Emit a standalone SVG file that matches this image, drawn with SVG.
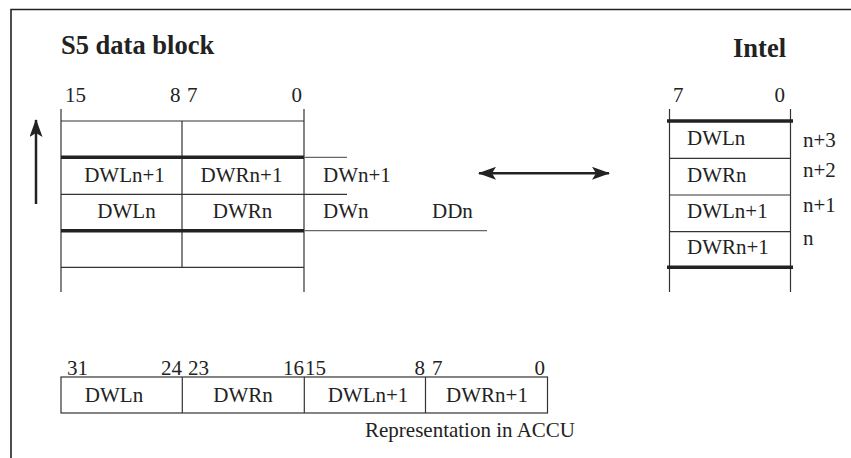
<svg xmlns="http://www.w3.org/2000/svg" width="851" height="458" viewBox="0 0 851 458">
<style>
  text { font-family: "Liberation Serif", "Times New Roman", serif; font-size: 21px; fill: #222; }
  .title { font-size: 26.5px; font-weight: bold; }
  .thin { stroke: #333; stroke-width: 1.2; fill: none; }
  .ext { stroke: #666; stroke-width: 1.2; fill: none; }
  .thick { stroke: #222; stroke-width: 3.5; fill: none; }
  .frame { stroke: #222; stroke-width: 1.6; fill: none; }
  .arrow { stroke: #222; stroke-width: 2.5; fill: none; }
  .mid { text-anchor: middle; }
  .end { text-anchor: end; }
</style>
<defs>
  <marker id="head" viewBox="0 0 18 13" refX="17" refY="6.5" markerWidth="18" markerHeight="13" markerUnits="userSpaceOnUse" orient="auto-start-reverse">
    <path d="M0,0 L18,6.5 L0,13 L4,6.5 Z" fill="#222"/>
  </marker>
</defs>
<rect width="851" height="458" fill="#fff"/>
<g id="frame">
  <path class="frame" d="M11,458 L11,9.5 L851,9.5"/>
</g>
<g id="s5-block">
  <text class="title" x="61" y="54">S5 data block</text>
  <text x="65" y="102">15</text>
  <text x="170" y="102">8</text>
  <text x="187" y="102">7</text>
  <text class="end" x="302" y="102">0</text>
  <path class="thin" d="M61,109 V292 M304,109 V292 M182,121 V267 M61,121 H304 M61,194.3 H347 M61,267.3 H304"/>
  <path class="ext" d="M304,157.3 H347 M304,230.7 H487"/>
  <path class="thick" d="M61,157.3 H304 M61,230.7 H304"/>
  <text class="mid" x="124.5" y="182">DWLn+1</text>
  <text class="mid" x="241.5" y="182">DWRn+1</text>
  <text x="323" y="182">DWn+1</text>
  <text class="mid" x="126.5" y="217.5">DWLn</text>
  <text class="mid" x="242.5" y="217.5">DWRn</text>
  <text x="323" y="217.5">DWn</text>
  <text x="432" y="217.5">DDn</text>
</g>
<g id="intel-block">
  <text class="title" x="733" y="57">Intel</text>
  <text x="673" y="102">7</text>
  <text class="end" x="785" y="102">0</text>
  <path class="thin" d="M669.5,109 V292 M790.5,109 V292 M669.5,158.3 H790.5 M669.5,195 H790.5 M669.5,231.7 H790.5"/>
  <path class="thick" d="M667,121 H793 M667,267.3 H793"/>
  <text x="687" y="145">DWLn</text>
  <text x="687" y="181.7">DWRn</text>
  <text x="687" y="218">DWLn+1</text>
  <text x="687" y="254">DWRn+1</text>
  <text x="803" y="147">n+3</text>
  <text x="803" y="177">n+2</text>
  <text x="803" y="211.7">n+1</text>
  <text x="803" y="245">n</text>
</g>
<g id="accu-block">
  <rect class="thin" x="61" y="377" width="486.5" height="36"/>
  <path class="thin" d="M182.3,377 V413 M304.3,377 V413 M425.5,377 V413"/>
  <text x="67" y="375">31</text>
  <text class="end" x="182" y="375">24</text>
  <text x="188" y="375">23</text>
  <text class="end" x="304" y="375">16</text>
  <text x="305" y="375">15</text>
  <text class="end" x="425" y="375">8</text>
  <text x="432" y="375">7</text>
  <text class="end" x="545" y="375">0</text>
  <text class="mid" x="114" y="401.7">DWLn</text>
  <text class="mid" x="243" y="401.7">DWRn</text>
  <text class="mid" x="368" y="401.7">DWLn+1</text>
  <text class="mid" x="487" y="401.7">DWRn+1</text>
  <text x="365" y="437.3">Representation in ACCU</text>
</g>
<g id="connectors">
  <path class="arrow" d="M36,204 V120" marker-end="url(#head)"/>
  <path class="arrow" d="M479,173.3 H609" marker-start="url(#head)" marker-end="url(#head)"/>
</g>
</svg>
